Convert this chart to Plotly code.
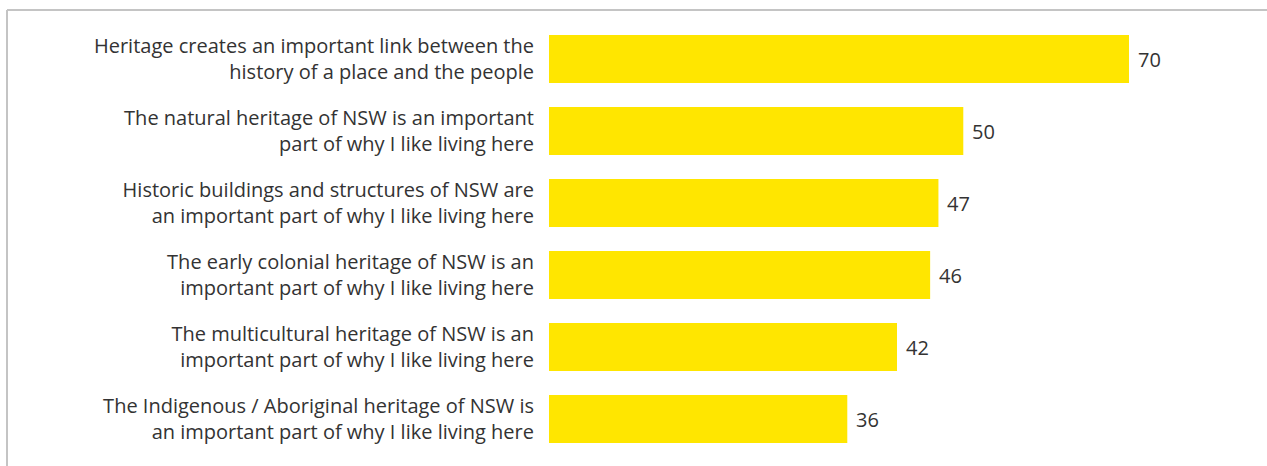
import plotly.graph_objects as go

# Agreement with heritage statements (%)
statements = [
    "Heritage creates an important link between the<br>history of a place and the people",
    "The natural heritage of NSW is an important<br>part of why I like living here",
    "Historic buildings and structures of NSW are<br>an important part of why I like living here",
    "The early colonial heritage of NSW is an<br>important part of why I like living here",
    "The multicultural heritage of NSW is an<br>important part of why I like living here",
    "The Indigenous / Aboriginal heritage of NSW is<br>an important part of why I like living here",
]
values = [70, 50, 47, 46, 42, 36]

W, H = 1267, 466
ML, MR, MT, MB = 549, 14, 23, 11
plot_w = W - ML - MR
plot_h = H - MT - MB
TEXT = "#333333"
FONT = "Open Sans, sans-serif"

fig = go.Figure(
    go.Bar(
        x=values,
        y=statements,
        orientation="h",
        marker=dict(color="#FFE600", line=dict(width=0)),
        hoverinfo="skip",
    )
)

# value labels just past the end of each bar
for s, v in zip(statements, values):
    fig.add_annotation(
        x=v, y=s, xref="x", yref="y",
        text=str(v), showarrow=False,
        xanchor="left", yanchor="middle", xshift=7,
        font=dict(family=FONT, size=20, color=TEXT),
    )

def px_x(p):
    return (p - ML) / plot_w

def px_y(p):
    return (H - MB - p) / plot_h

# open frame: top and left edges
grey = "#C4C4C4"
fig.add_shape(type="line", xref="paper", yref="paper",
              x0=px_x(7), x1=px_x(W + 5), y0=px_y(10), y1=px_y(10),
              line=dict(color=grey, width=2))
fig.add_shape(type="line", xref="paper", yref="paper",
              x0=px_x(7), x1=px_x(7), y0=px_y(10), y1=px_y(H + 5),
              line=dict(color=grey, width=2))

fig.update_layout(
    width=W,
    height=H,
    margin=dict(l=ML, r=MR, t=MT, b=MB, pad=0),
    paper_bgcolor="white",
    plot_bgcolor="white",
    bargap=1 / 3,
    showlegend=False,
    font=dict(family=FONT, size=20, color=TEXT),
    xaxis=dict(range=[0, plot_w / (580 / 70)], visible=False, fixedrange=True),
    yaxis=dict(
        autorange="reversed",
        showgrid=False,
        zeroline=False,
        showline=False,
        ticks="",
        ticklabelstandoff=14,
        tickfont=dict(family=FONT, size=20, color=TEXT),
        fixedrange=True,
    ),
)

fig.write_html("out.html")
